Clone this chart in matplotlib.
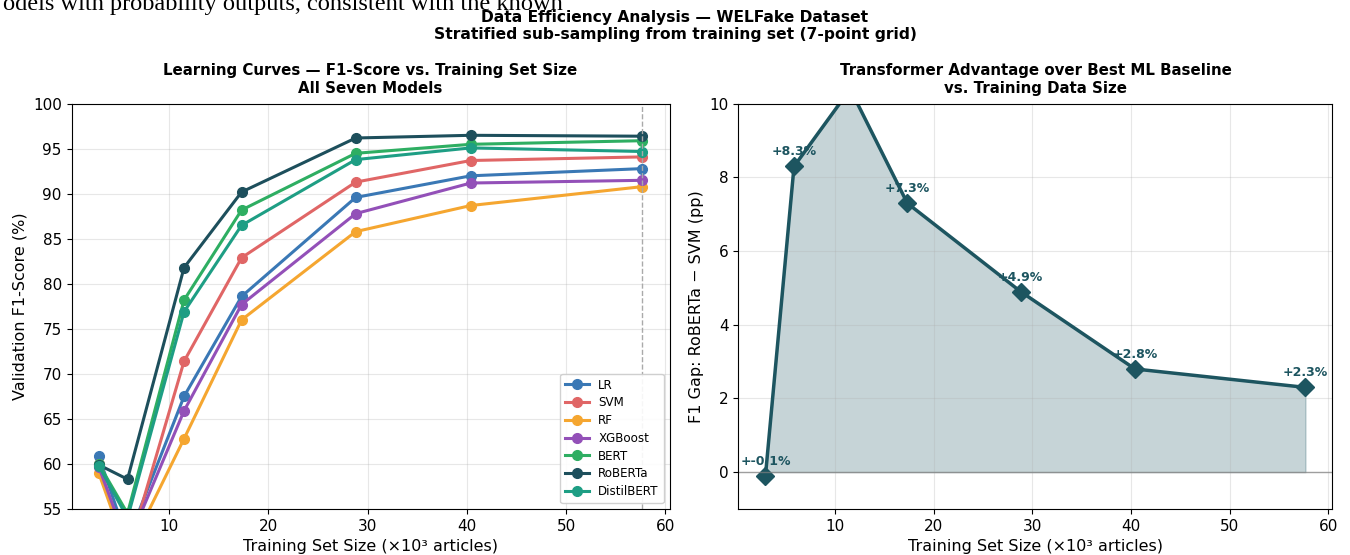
import matplotlib
matplotlib.use("Agg")
import matplotlib.pyplot as plt
import numpy as np

# ---- data ----
train_sizes = [2.9, 5.8, 11.5, 17.3, 28.8, 40.4, 57.7]  # x10^3 articles
models = ["LR", "SVM", "RF", "XGBoost", "BERT", "RoBERTa", "DistilBERT"]
f1_lr = [60.9, 51.5, 67.5, 78.6, 89.6, 92.0, 92.8]
f1_svm = [60.0, 50.0, 71.4, 82.9, 91.3, 93.7, 94.1]
f1_rf = [59.0, 50.0, 62.8, 76.0, 85.8, 88.7, 90.8]
f1_xgb = [59.7, 51.0, 65.9, 77.7, 87.8, 91.2, 91.5]
f1_bert = [60.0, 54.5, 78.2, 88.2, 94.5, 95.5, 95.9]
f1_roberta = [59.9, 58.3, 81.8, 90.2, 96.2, 96.5, 96.4]
f1_distil = [59.8, 54.0, 76.9, 86.5, 93.8, 95.1, 94.7]
colors = ["#3A78B5", "#E06666", "#F5A630", "#9350B8", "#2EAE62", "#1D4F5C", "#1E9E84"]

series = [f1_lr, f1_svm, f1_rf, f1_xgb, f1_bert, f1_roberta, f1_distil]
gap = [r - s for r, s in zip(f1_roberta, f1_svm)]

plt.rcParams['font.family'] = ['DejaVu Sans']
fig = plt.figure(figsize=(13.5, 5.55), dpi=100)

fig.text(0.002, 0.991, "odels with probability outputs, consistent with the known",
         family="Liberation Serif", fontsize=17.6, va="center", ha="left")
fig.suptitle("Data Efficiency Analysis — WELFake Dataset\nStratified sub-sampling from training set (7-point grid)",
             fontsize=11.2, fontweight="bold", y=0.982)

ax1 = fig.add_axes([0.053, 0.083, 0.443, 0.730])
ax2 = fig.add_axes([0.547, 0.083, 0.440, 0.730])

for name, vals, c in zip(models, series, colors):
    ax1.plot(train_sizes, vals, "-o", color=c, lw=2.2, ms=7, label=name)
ax1.axvline(train_sizes[-1], color="#aaaaaa", ls="--", lw=1)
ax1.set_ylim(55, 100)
ax1.set_title("Learning Curves — F1-Score vs. Training Set Size\nAll Seven Models",
              fontsize=10.8, fontweight="bold", pad=8)
ax1.set_xlabel("Training Set Size (×10³ articles)", fontsize=11.5)
ax1.set_ylabel("Validation F1-Score (%)", fontsize=11.5)
ax1.grid(True, alpha=0.3)
ax1.legend(loc="lower right", fontsize=8.6, framealpha=0.9, labelspacing=0.4)
ax1.tick_params(labelsize=11)

gc = "#1D5560"
ax2.fill_between(train_sizes, gap, 0, color=gc, alpha=0.25)
ax2.plot(train_sizes, gap, "-D", color=gc, lw=2.5, ms=9)
ax2.axhline(0, color="gray", lw=1, alpha=0.7)
for x, g in zip(train_sizes, gap):
    ax2.annotate(f"+{g:.1f}%", (x, g), textcoords="offset points", xytext=(0, 8),
                 ha="center", fontsize=9, fontweight="bold", color=gc, annotation_clip=True)
ax2.set_ylim(-1, 10)
ax2.set_title("Transformer Advantage over Best ML Baseline\nvs. Training Data Size",
              fontsize=10.8, fontweight="bold", pad=8)
ax2.set_xlabel("Training Set Size (×10³ articles)", fontsize=11.5)
ax2.set_ylabel("F1 Gap: RoBERTa − SVM (pp)", fontsize=11.5)
ax2.grid(True, alpha=0.3)
ax2.tick_params(labelsize=11)

fig.savefig("out.png", dpi=100)
